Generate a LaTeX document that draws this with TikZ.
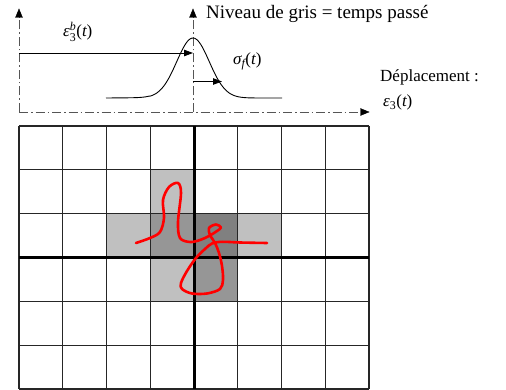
\documentclass[tikz,border=0pt]{standalone}
\usepackage{amsmath}
\usepackage{fontspec}
\setmainfont{Liberation Serif}
\usetikzlibrary{arrows.meta}
\definecolor{lightg}{HTML}{C0C0C0}
\definecolor{midg}{HTML}{969696}
\definecolor{darkg}{HTML}{808080}
\definecolor{axisg}{HTML}{555555}
\tikzset{
  axisline/.style={draw=axisg, line width=0.9pt, dash pattern=on 9pt off 3pt on 1.5pt off 3pt},
  axistip/.style={draw=black, line width=0.4pt, fill=black, line join=miter},
  measarrow/.style={draw=black, line width=0.8pt, -{Triangle[length=9pt,width=6.5pt]}},
  lbl/.style={inner sep=0pt, anchor=base west, font=\fontsize{17}{20}\selectfont},
  gridline/.style={draw=black!85, line width=1.2pt},
  thickline/.style={draw=black, line width=3pt},
  track/.style={draw=red, line width=2.6pt, line cap=round, line join=round}
}
\begin{document}
\begin{tikzpicture}[x=1pt,y=-1pt]
\useasboundingbox (0,0) rectangle (506,390);
% shaded cells
\def\cw{43.75}
\def\rh{43.83}
\fill[lightg] (150.25,169.83) rectangle (194,213.66);
\fill[lightg] (106.5,213.66) rectangle (150.25,257.5);
\fill[midg] (150.25,213.66) rectangle (194,257.5);
\fill[darkg] (194,213.66) rectangle (237.75,257.5);
\fill[lightg] (237.75,213.66) rectangle (281.5,257.5);
\fill[lightg] (150.25,257.5) rectangle (194,301.33);
\fill[midg] (194,257.5) rectangle (237.75,301.33);
% grid
\foreach \i in {0,...,8} {\draw[gridline] ({19+\i*\cw},126) -- ({19+\i*\cw},389);}
\foreach \j in {0,...,6} {\draw[gridline] (19,{126+\j*\rh}) -- (369,{126+\j*\rh});}
\draw[thickline] (194,126) -- (194,389);
\draw[thickline] (19,257.5) -- (369,257.5);
% trajectory
\draw[track] plot[smooth, tension=0.55] coordinates {
 (136,243) (150,238) (160,232) (164,218) (163,200) (169,187) (178,183) (181,193)
 (178,222) (180,238) (190,242) (200,240) (209,236) (217,231) (221,227.5) (216,224.5)
 (209,228) (210,235) (215,243) (219,253) (222,266) (223,280) (220,289) (207,293.5)
 (192,293.5) (182,289) (181,283) (187,271) (196,258) (205,249) (212,243.5) (222,241.8)
 (240,242.5) (267,243)};
% axes
\coordinate (o) at (19,112);
\coordinate (ytop) at (19,17);
\coordinate (xend) at (361,112);
\coordinate (mbot) at (193,112);
\coordinate (mtop) at (193,17);
\draw[axisline] (o) -- (ytop);
\draw[axisline] (o) -- (xend);
\draw[axisline] (mbot) -- (mtop);
\filldraw[axistip] (15.5,17.5) -- (19,9) -- (22.5,17.5) -- cycle;
\filldraw[axistip] (189.5,17.5) -- (193,9) -- (196.5,17.5) -- cycle;
\filldraw[axistip] (360.5,108.5) -- (369,112) -- (360.5,115.5) -- cycle;
% gaussian
\draw[line width=0.9pt] plot[domain=106:282, samples=120, smooth]
  (\x, {98-60*exp(-((\x-193)/23)^2) - 0.008*(\x-106)*(\x<150)});
% measurement arrows
\coordinate (ea) at (19,53);
\coordinate (eb) at (193,53);
\draw[measarrow] (ea) -- (eb);
\coordinate (sa) at (193,81.5);
\coordinate (sb) at (222,81.5);
\draw[measarrow] (sa) -- (sb);
% labels
\node[lbl, font=\fontsize{19}{22}\selectfont] (niv) at (206,18.5) {Niveau de gris = temps passé};
\node[lbl] (eps) at (63,37) {$\textit{ε}_{\text{3}}^{\textit{b}}\text{(}\textit{t}\text{)}$};
\node[lbl] (sig) at (233,65) {$\textit{σ}_{\textit{f}}\text{(}\textit{t}\text{)}$};
\node[lbl] (dep) at (380,82) {Déplacement :};
\node[lbl] (eps3) at (383,107) {$\textit{ε}_{\text{3}}\text{(}\textit{t}\text{)}$};
\end{tikzpicture}
\end{document}
